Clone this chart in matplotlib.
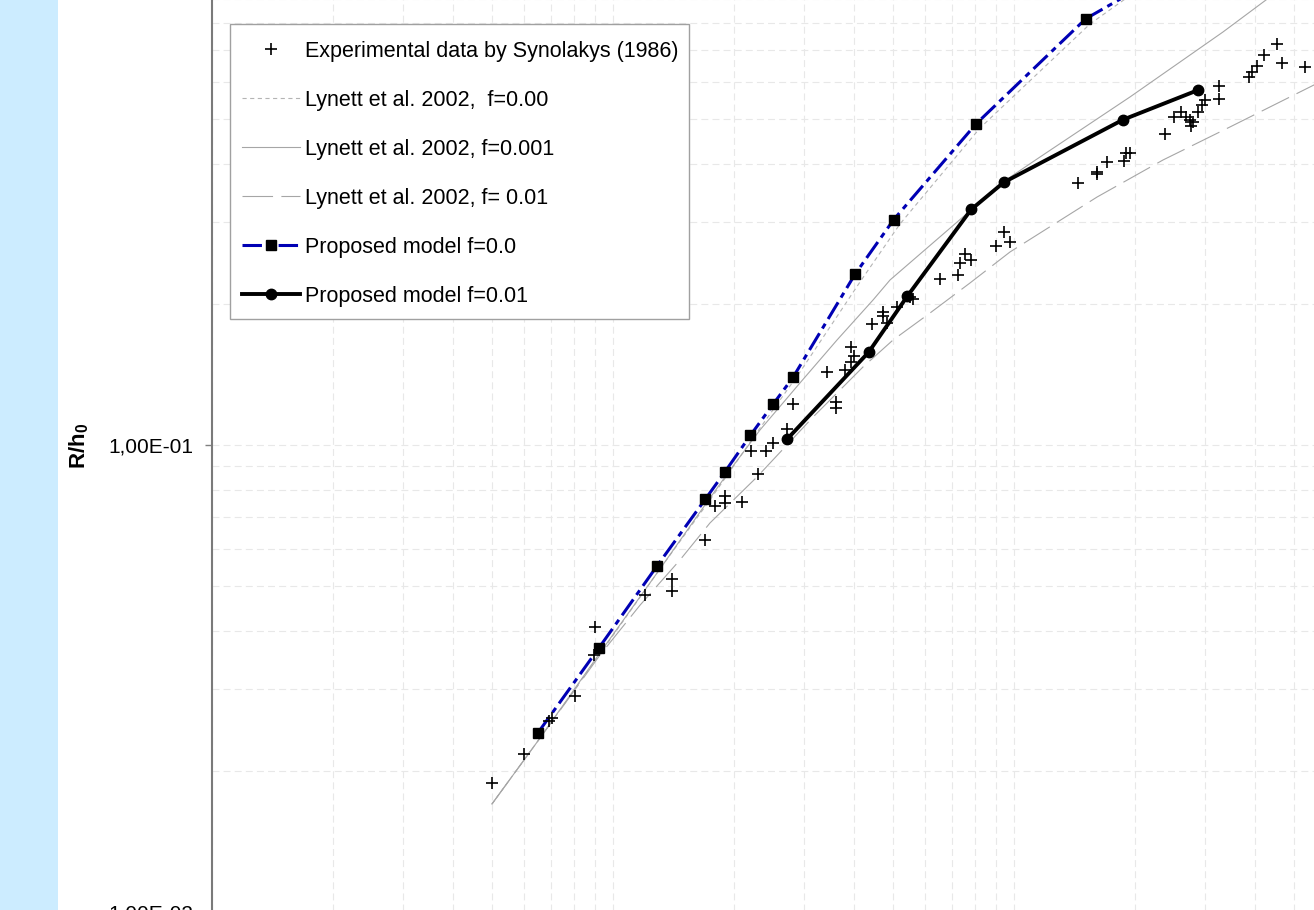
import matplotlib
matplotlib.use('Agg')
import matplotlib.pyplot as plt
from matplotlib.patches import Rectangle
from matplotlib.ticker import LogLocator, FuncFormatter, NullFormatter

plt.rcParams['font.family'] = ['Liberation Sans', 'DejaVu Sans']
plt.rcParams['mathtext.fontset'] = 'custom'
plt.rcParams['mathtext.rm'] = 'Liberation Sans'
plt.rcParams['mathtext.bf'] = 'Liberation Sans:bold'
plt.rcParams['lines.scale_dashes'] = False

# ---------------- data ----------------
exp_x = [0.00500, 0.00601, 0.00693, 0.00705, 0.00802, 0.00897, 0.00902, 0.0120, 0.0140, 0.0140,
         0.0170, 0.0180, 0.0190, 0.0190, 0.0210, 0.0230, 0.0221, 0.0241, 0.0251, 0.0272,
         0.0281, 0.0341, 0.0359, 0.0359, 0.0380, 0.0392, 0.0398, 0.0392, 0.0442, 0.0472,
         0.0472, 0.0483, 0.0510, 0.0549, 0.0559, 0.0654, 0.0724, 0.0732, 0.0755, 0.0783,
         0.0903, 0.0943, 0.0977, 0.144, 0.161, 0.1615, 0.171, 0.188, 0.1905, 0.195,
         0.238, 0.251, 0.261, 0.268, 0.274, 0.276, 0.280, 0.287, 0.294, 0.300,
         0.325, 0.325, 0.386, 0.393, 0.404, 0.420, 0.452, 0.465, 0.532]
exp_y = [0.0189, 0.0218, 0.0256, 0.0260, 0.0290, 0.0355, 0.0408, 0.0477, 0.0517, 0.0487,
         0.0626, 0.0741, 0.0778, 0.0752, 0.0755, 0.0867, 0.0972, 0.0972, 0.1011, 0.1081,
         0.1227, 0.1431, 0.1236, 0.1202, 0.1451, 0.1622, 0.1554, 0.1508, 0.1814, 0.1929,
         0.1889, 0.1823, 0.1977, 0.2075, 0.2054, 0.2265, 0.2316, 0.2457, 0.2561, 0.2495,
         0.2671, 0.2855, 0.2715, 0.3645, 0.3847, 0.3804, 0.4030, 0.4051, 0.4219, 0.4219,
         0.4634, 0.5031, 0.5165, 0.5039, 0.4977, 0.4832, 0.4924, 0.5165, 0.5354, 0.5471,
         0.5872, 0.5499, 0.6149, 0.6287, 0.6472, 0.6840, 0.7214, 0.6568, 0.6458]

pm0_x = [0.0065, 0.00923, 0.0129, 0.0170, 0.0190, 0.0220, 0.0251, 0.0281, 0.0401, 0.0501, 0.0804, 0.151, 0.259]
pm0_y = [0.0242, 0.0368, 0.0552, 0.0766, 0.0875, 0.1048, 0.1224, 0.1395, 0.2318, 0.3037, 0.487, 0.818, 1.066]

pm1_x = [0.0272, 0.0434, 0.0542, 0.0782, 0.0943, 0.187, 0.288]
pm1_y = [0.1030, 0.158, 0.2083, 0.3194, 0.3651, 0.4972, 0.5756]

ly0_x = [0.00499, 0.00658, 0.00928, 0.0131, 0.01745, 0.02326, 0.02926, 0.0413, 0.05195, 0.0823, 0.1547, 0.2594]
ly0_y = [0.01703, 0.02359, 0.0357, 0.0543, 0.07627, 0.1087, 0.1433, 0.2234, 0.2973, 0.4775, 0.7971, 1.093]

ly1_x = [0.00499, 0.00658, 0.00928, 0.0131, 0.01696, 0.01958, 0.02326, 0.02926, 0.03619, 0.04451,
         0.04907, 0.0746, 0.09389, 0.1161, 0.1947, 0.332, 0.4249, 0.6138]
ly1_y = [0.01703, 0.02359, 0.0359, 0.0543, 0.07439, 0.0884, 0.1077, 0.1358, 0.1678, 0.2044,
         0.2256, 0.3078, 0.3658, 0.4137, 0.5563, 0.7663, 0.8972, 1.12]

ly2_x = [0.00499, 0.00658, 0.00928, 0.01168, 0.01469, 0.01745, 0.02286, 0.03155, 0.04201, 0.04992,
         0.06174, 0.07767, 0.09772, 0.1611, 0.2352, 0.3457, 0.56, 0.9175]
ly2_y = [0.01703, 0.02359, 0.0355, 0.0454, 0.05673, 0.06808, 0.08541, 0.1148, 0.1469, 0.1678,
         0.1917, 0.2223, 0.259, 0.3396, 0.4076, 0.4798, 0.5902, 0.7185]

labels = ["Experimental data by Synolakys (1986)",
          "Lynett et al. 2002,  f=0.00",
          "Lynett et al. 2002, f=0.001",
          "Lynett et al. 2002, f= 0.01",
          "Proposed model f=0.0",
          "Proposed model f=0.01"]

# ---------------- figure ----------------
W, H = 1314, 910
fig = plt.figure(figsize=(W / 100, H / 100), dpi=100)
fig.add_artist(Rectangle((0, 0), 58 / W, 1, transform=fig.transFigure,
                         facecolor='#CCECFF', edgecolor='none', zorder=0))

ax = fig.add_axes([212 / W, -2 / H, 1203 / W, 934 / H])
ax.set_xscale('log')
ax.set_yscale('log')
ax.set_xlim(0.001, 1)
ax.set_ylim(0.01, 1)
ax.patch.set_alpha(0)

ax.plot(ly0_x, ly0_y, color='#b4b4b4', lw=0.8, dashes=(3, 2.5), label=labels[1], zorder=2)
ax.plot(ly1_x, ly1_y, color='#a6a6a6', lw=0.8, ls='-', label=labels[2], zorder=2)
ax.plot(ly2_x, ly2_y, color='#a6a6a6', lw=0.8, dashes=(22, 6), label=labels[3], zorder=2)
ax.plot(pm0_x, pm0_y, color='#0000B4', lw=2.2, dashes=(14, 4, 4, 4), marker='s', ms=6.5,
        mfc='k', mec='k', label=labels[4], zorder=3)
ax.plot(pm1_x, pm1_y, color='k', lw=2.8, marker='o', ms=7.5, mfc='k', mec='k',
        label=labels[5], zorder=3)
ax.plot(exp_x, exp_y, ls='none', marker='+', ms=8.5, mew=1.2, color='k', label=labels[0], zorder=4)

# ticks / grid
ax.yaxis.set_major_locator(LogLocator(base=10, numticks=10))
ax.yaxis.set_minor_locator(LogLocator(base=10, subs=range(2, 10), numticks=20))
ax.xaxis.set_major_locator(LogLocator(base=10, numticks=10))
ax.xaxis.set_minor_locator(LogLocator(base=10, subs=range(2, 10), numticks=20))
ax.yaxis.set_major_formatter(FuncFormatter(lambda v, p: f"{v:.2E}".replace('.', ',')))
ax.yaxis.set_minor_formatter(NullFormatter())
ax.tick_params(axis='y', which='major', length=5, width=1, color='#808080',
               labelsize=15, pad=8.5, direction='out')
ax.tick_params(which='minor', length=0)
ax.tick_params(axis='x', which='both', length=0, labelbottom=False)
ax.grid(True, which='both', color='#e8e8e8', lw=0.8, linestyle=(0, (5, 3)))
ax.set_axisbelow(True)

for s in ['top', 'right', 'bottom']:
    ax.spines[s].set_visible(False)
ax.spines['left'].set_color('#7a7a7a')
ax.spines['left'].set_linewidth(1.5)

ax.set_ylabel(r'$\mathbf{R/h_0}$', fontsize=16)
ax.yaxis.set_label_coords(-0.1006, 0.4989)

# legend frame drawn as its own box, legend content placed inside
frame = Rectangle((230 / W, 1 - 319 / H), (689 - 230) / W, (319 - 24) / H,
                  transform=fig.transFigure, facecolor='white', edgecolor='#a0a0a0',
                  linewidth=1.0, zorder=6, clip_on=False)
ax.add_artist(frame)

handles, labs = ax.get_legend_handles_labels()
order = [labs.index(l) for l in labels]
leg = ax.legend([handles[i] for i in order], [labs[i] for i in order],
                loc='upper left', bbox_to_anchor=(230 / W, 1 - 29 / H),
                bbox_transform=fig.transFigure, borderaxespad=0, frameon=False,
                fontsize=15.5, handlelength=2.7, handletextpad=0.25, labelspacing=1.3,
                borderpad=0.55, numpoints=1)
leg.set_zorder(7)

fig.savefig('out.png', dpi=100)
